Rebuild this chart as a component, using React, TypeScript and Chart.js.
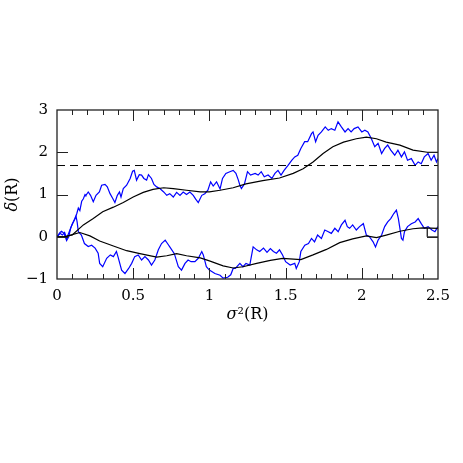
import React, { useEffect, useRef } from "react";
import { Chart, registerables } from "chart.js";

Chart.register(...registerables);

// ---- data (sigma^2, delta) ----
const upperWalkX = [0.00,0.02,0.03,0.046,0.063,0.077,0.09,0.107,0.118,0.13,0.14,0.15,0.162,0.173,0.184,0.19,0.205,0.22,0.238,0.256,0.278,0.293,0.315,0.33,0.348,0.365,0.38,0.396,0.41,0.42,0.435,0.457,0.48,0.496,0.507,0.522,0.54,0.555,0.57,0.588,0.60,0.62,0.636,0.654,0.675,0.70,0.72,0.74,0.763,0.785,0.807,0.828,0.85,0.872,0.894,0.91,0.927,0.95,0.97,0.99,1.008,1.025,1.047,1.07,1.086,1.108,1.134,1.156,1.174,1.19,1.20,1.21,1.23,1.25,1.27,1.30,1.32,1.34,1.36,1.385,1.41,1.43,1.45,1.47,1.49,1.516,1.54,1.56,1.58,1.60,1.625,1.645,1.67,1.68,1.697,1.713,1.735,1.76,1.78,1.80,1.823,1.844,1.866,1.89,1.91,1.93,1.95,1.975,2.00,2.02,2.04,2.063,2.085,2.107,2.13,2.15,2.17,2.19,2.216,2.237,2.26,2.28,2.30,2.325,2.35,2.37,2.39,2.41,2.435,2.455,2.474,2.49,2.50];
const upperWalkY = [0.00,0.10,0.13,0.08,-0.09,0.00,0.21,0.35,0.44,0.55,0.68,0.62,0.84,0.90,1.00,0.98,1.06,0.98,0.83,0.98,1.06,1.22,1.24,1.18,1.02,0.91,0.81,0.98,1.06,0.94,1.14,1.22,1.38,1.55,1.57,1.34,1.47,1.46,1.38,1.34,1.47,1.38,1.24,1.18,1.14,1.06,0.98,1.02,0.94,1.05,0.98,1.06,1.00,1.06,0.98,0.89,0.81,0.98,1.02,1.10,1.30,1.20,1.30,1.13,1.38,1.50,1.54,1.57,1.50,1.34,1.22,1.14,1.25,1.54,1.46,1.50,1.46,1.54,1.42,1.46,1.38,1.50,1.57,1.46,1.57,1.69,1.81,1.89,1.93,2.09,2.25,2.25,2.44,2.48,2.25,2.40,2.48,2.60,2.52,2.56,2.52,2.72,2.60,2.48,2.56,2.48,2.56,2.60,2.48,2.52,2.48,2.32,2.13,2.21,1.97,2.09,2.17,2.05,1.93,2.05,1.89,2.01,1.81,1.85,1.69,1.77,1.73,1.89,1.97,1.81,1.93,1.77,1.85];

const lowerWalkX = [0.00,0.02,0.035,0.05,0.063,0.085,0.10,0.115,0.125,0.132,0.14,0.16,0.18,0.205,0.227,0.25,0.27,0.28,0.30,0.326,0.35,0.37,0.39,0.40,0.424,0.446,0.47,0.49,0.51,0.533,0.555,0.577,0.60,0.62,0.642,0.665,0.686,0.71,0.725,0.74,0.77,0.796,0.817,0.84,0.86,0.88,0.905,0.927,0.95,0.96,0.98,1.00,1.036,1.07,1.09,1.12,1.14,1.156,1.17,1.20,1.22,1.24,1.265,1.287,1.31,1.33,1.355,1.378,1.40,1.42,1.44,1.46,1.48,1.50,1.53,1.56,1.57,1.59,1.60,1.626,1.65,1.67,1.69,1.71,1.735,1.757,1.78,1.80,1.823,1.845,1.866,1.89,1.905,1.92,1.94,1.964,1.985,2.01,2.03,2.05,2.074,2.09,2.107,2.13,2.15,2.17,2.19,2.21,2.227,2.24,2.25,2.26,2.27,2.28,2.30,2.325,2.35,2.37,2.39,2.41,2.435,2.46,2.48,2.50];
const lowerWalkY = [0.00,0.08,0.04,0.10,-0.04,0.16,0.30,0.40,0.48,0.35,0.12,0.04,-0.16,-0.23,-0.20,-0.27,-0.39,-0.63,-0.71,-0.51,-0.43,-0.47,-0.35,-0.47,-0.79,-0.87,-0.75,-0.63,-0.47,-0.43,-0.55,-0.47,-0.55,-0.67,-0.55,-0.31,-0.16,-0.08,-0.16,-0.24,-0.40,-0.71,-0.79,-0.63,-0.55,-0.59,-0.59,-0.51,-0.35,-0.43,-0.71,-0.79,-0.87,-0.91,-0.98,-0.96,-0.90,-0.75,-0.75,-0.63,-0.71,-0.63,-0.67,-0.24,-0.31,-0.35,-0.27,-0.37,-0.28,-0.35,-0.39,-0.31,-0.43,-0.59,-0.67,-0.63,-0.75,-0.59,-0.35,-0.20,-0.16,-0.04,-0.12,0.04,-0.04,0.16,0.12,0.08,0.20,0.12,0.28,0.39,0.24,0.20,0.28,0.16,0.24,0.31,0.04,0.00,-0.12,-0.24,-0.08,0.04,0.24,0.35,0.43,0.55,0.63,0.43,0.20,-0.04,-0.08,0.12,0.24,0.31,0.35,0.43,0.31,0.20,0.24,0.16,0.12,0.24];

const upperMeanX = [0,0.05,0.10,0.173,0.238,0.30,0.37,0.435,0.50,0.566,0.63,0.70,0.763,0.85,0.94,1.00,1.07,1.156,1.24,1.35,1.46,1.55,1.615,1.68,1.746,1.81,1.88,1.964,2.03,2.096,2.16,2.25,2.336,2.43,2.50];
const upperMeanY = [0,0.00,0.04,0.28,0.43,0.59,0.70,0.81,0.94,1.05,1.12,1.16,1.14,1.10,1.06,1.06,1.10,1.16,1.25,1.33,1.39,1.50,1.61,1.77,1.97,2.13,2.24,2.32,2.36,2.32,2.24,2.17,2.05,2.00,2.00];

const lowerMeanX = [0,0.05,0.10,0.15,0.216,0.28,0.37,0.457,0.544,0.654,0.72,0.785,0.85,0.94,1.00,1.09,1.156,1.22,1.31,1.40,1.48,1.60,1.68,1.768,1.855,1.94,2.03,2.096,2.16,2.25,2.336,2.40,2.50];
const lowerMeanY = [0,0.00,0.05,0.10,0.02,-0.10,-0.22,-0.33,-0.40,-0.48,-0.45,-0.40,-0.45,-0.50,-0.57,-0.69,-0.74,-0.71,-0.63,-0.56,-0.51,-0.54,-0.43,-0.30,-0.14,-0.05,0.02,-0.02,0.04,0.13,0.19,0.21,0.20];
const lowerStepX = [2.43,2.43,2.50];
const lowerStepY = [0.21,0.00,0.00];

const barrierX = [0, 2.5];
const barrierY = [1.686, 1.686];

const xTickStep = 0.5;
const yTickStep = 1;
const xRange = [0, 2.5];
const yRange = [-1, 3];

const zip = (xs: number[], ys: number[]) => xs.map((x, i) => ({ x, y: ys[i] }));

const SERIF = '"DejaVu Serif", "Liberation Serif", serif';

const framePlugin = {
  id: "frameTicks",
  afterDatasetsDraw(chart: any) {
    const { ctx, chartArea: a, scales } = chart;
    const xs = scales.x;
    const ys = scales.y;
    ctx.save();
    ctx.strokeStyle = "#222";
    ctx.lineWidth = 1;
    ctx.beginPath();
    for (let i = 1; i < 25; i++) {
      const v = i / 10;
      const px = Math.round(xs.getPixelForValue(v)) + 0.5;
      const len = i % 5 === 0 ? 11 : 5;
      ctx.moveTo(px, a.bottom);
      ctx.lineTo(px, a.bottom - len);
      ctx.moveTo(px, a.top);
      ctx.lineTo(px, a.top + len);
    }
    for (let v = yRange[0] + 1; v < yRange[1]; v++) {
      const py = Math.round(ys.getPixelForValue(v)) + 0.5;
      ctx.moveTo(a.left, py);
      ctx.lineTo(a.left + 11, py);
      ctx.moveTo(a.right, py);
      ctx.lineTo(a.right - 11, py);
    }
    ctx.stroke();
    ctx.lineWidth = 1.3;
    ctx.strokeRect(a.left, a.top, a.right - a.left, a.bottom - a.top);
    ctx.restore();
  },
  afterDraw(chart: any) {
    const { ctx, chartArea: a } = chart;
    ctx.save();
    ctx.fillStyle = "#000";
    ctx.textBaseline = "middle";
    // x title
    const cx = (a.left + a.right) / 2;
    ctx.font = `italic 16px ${SERIF}`;
    const w1 = ctx.measureText("σ").width;
    ctx.font = `16px ${SERIF}`;
    const w2 = ctx.measureText("²(R)").width;
    let sx = cx - (w1 + w2) / 2;
    ctx.textAlign = "left";
    ctx.font = `italic 16px ${SERIF}`;
    ctx.fillText("σ", sx, 315);
    ctx.font = `16px ${SERIF}`;
    ctx.fillText("²(R)", sx + w1, 315);
    // y title
    ctx.translate(13, (a.top + a.bottom) / 2);
    ctx.rotate(-Math.PI / 2);
    ctx.font = `italic 16px ${SERIF}`;
    const d1 = ctx.measureText("δ").width;
    ctx.font = `16px ${SERIF}`;
    const d2 = ctx.measureText("(R)").width;
    const dx = -(d1 + d2) / 2;
    ctx.font = `italic 16px ${SERIF}`;
    ctx.fillText("δ", dx, 0);
    ctx.font = `16px ${SERIF}`;
    ctx.fillText("(R)", dx + d1, 0);
    ctx.restore();
  },
};

export default function App() {
  const ref = useRef<HTMLCanvasElement | null>(null);
  useEffect(() => {
    if (!ref.current) return;
    const black = "#000000";
    const blue = "#0000ff";
    const line = (data: any, color: string, width: number, extra: any = {}) => ({
      data,
      borderColor: color,
      backgroundColor: color,
      borderWidth: width,
      pointRadius: 0,
      showLine: true,
      fill: false,
      tension: 0,
      ...extra,
    });
    const chart = new Chart(ref.current, {
      type: "scatter",
      data: {
        datasets: [
          line(zip(upperMeanX, upperMeanY), black, 1.2),
          line(zip(lowerMeanX, lowerMeanY), black, 1.2),
          line(zip(lowerStepX, lowerStepY), "#333", 1),
          line(zip(barrierX, barrierY), black, 1, { borderDash: [8, 5] }),
          line(zip(upperWalkX, upperWalkY), blue, 1.2),
          line(zip(lowerWalkX, lowerWalkY), blue, 1.2),
        ],
      },
      options: {
        responsive: false,
        animation: false,
        events: [],
        layout: { padding: { top: 110, right: 25, left: 0, bottom: 0 } },
        plugins: { legend: { display: false }, tooltip: { enabled: false } },
        scales: {
          x: {
            type: "linear",
            min: xRange[0],
            max: xRange[1],
            grid: { display: false, drawTicks: false },
            border: { display: false },
            ticks: {
              stepSize: xTickStep,
              padding: 8,
              color: "#000",
              font: { family: SERIF, size: 15 },
              maxRotation: 0,
              callback: (v: any) => String(v),
            },
            afterFit: (s: any) => {
              s.height = 184;
            },
          },
          y: {
            type: "linear",
            min: yRange[0],
            max: yRange[1],
            grid: { display: false, drawTicks: false },
            border: { display: false },
            ticks: {
              stepSize: yTickStep,
              padding: 9,
              color: "#000",
              font: { family: SERIF, size: 15 },
              callback: (v: any) => (v < 0 ? "−" + Math.abs(v) : String(v)),
            },
            afterFit: (s: any) => {
              s.width = 57;
            },
          },
        },
      },
      plugins: [framePlugin],
    });
    return () => chart.destroy();
  }, []);
  return (
    <div style={{ position: "absolute", left: 0, top: 0, width: 463, height: 463, background: "#fff" }}>
      <canvas ref={ref} width={463} height={463} />
    </div>
  );
}
